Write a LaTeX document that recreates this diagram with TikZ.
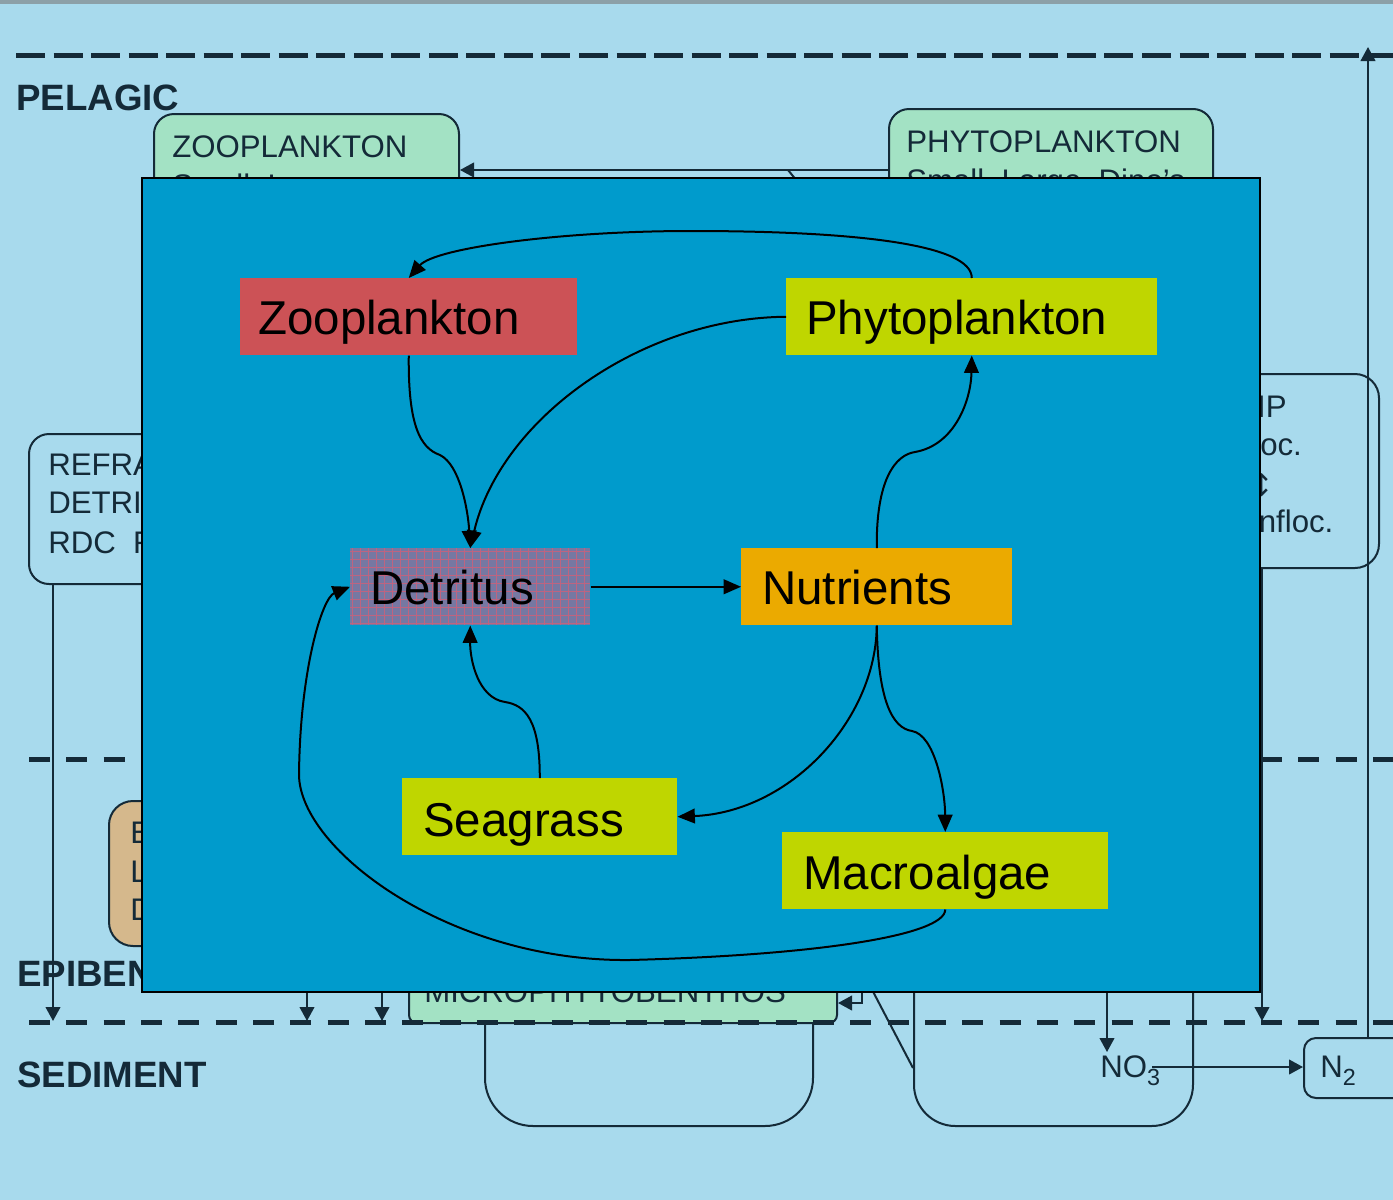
\documentclass[tikz,border=0pt]{standalone}
\usepackage{fontspec}
\setmainfont{Liberation Sans}
\newfontfamily\symfont{DejaVu Sans}
\usetikzlibrary{arrows.meta}
\definecolor{bgblue}{RGB}{168,218,237}
\definecolor{navy}{RGB}{20,42,56}
\definecolor{panel}{RGB}{0,155,204}
\definecolor{zoocol}{RGB}{204,82,86}
\definecolor{lime}{RGB}{191,214,0}
\definecolor{nutcol}{RGB}{235,170,0}
\definecolor{detcol}{RGB}{118,120,162}
\definecolor{detgrid}{RGB}{190,100,128}
\definecolor{boxgreen}{RGB}{163,226,196}
\definecolor{boxtan}{RGB}{213,184,140}
\definecolor{topgray}{RGB}{140,160,168}
\begin{document}
\begin{tikzpicture}[x=0.75pt,y=-0.75pt,
  bgline/.style={draw=navy, line width=1.5pt},
  bgarrow/.style={draw=navy, line width=1.5pt, -{Triangle[length=10.5pt,width=11pt]}},
  dashtop/.style={draw=navy, line width=3.75pt, dash pattern=on 21.75pt off 6.4pt},
  dashlow/.style={draw=navy, line width=3.75pt, dash pattern=on 15.75pt off 12.25pt},
  bgbox/.style={draw=navy, line width=1.5pt, rounded corners=15pt, inner sep=0pt, anchor=north west},
  bgtext/.style={text=navy, font=\fontsize{23.4pt}{28pt}\selectfont, inner sep=0pt, anchor=base west},
  zonetext/.style={text=navy, font=\bfseries\fontsize{27.5pt}{33pt}\selectfont, inner sep=0pt, anchor=base west},
  ibox/.style={inner sep=0pt, draw=none, anchor=north west, minimum height=57.75pt},
  itext/.style={font=\fontsize{35.6pt}{42pt}\selectfont, inner sep=0pt, anchor=base west},
  conn/.style={draw=black, line width=1.5pt, -{Triangle[length=13pt,width=11pt]}}
]
% canvas
\useasboundingbox (0,0) rectangle (1393,1200);
\fill[bgblue] (0,0) rectangle (1393,1200);
\fill[topgray] (0,0) rectangle (1393,4);

% ---------- background diagram ----------
\node[bgbox, rounded corners=36pt, minimum width=246pt, minimum height=168.75pt] (bsed1) at (484,900) {};
\node[bgbox, rounded corners=31pt, minimum width=209.25pt, minimum height=168.75pt] (bsed2) at (913,900) {};

\node[bgbox, fill=boxgreen, minimum width=228.75pt, minimum height=140.25pt] (bzoo) at (153,113) {};
\node[bgbox, fill=boxgreen, minimum width=243pt, minimum height=144pt] (bphy) at (888,108) {};
\node[bgbox, rounded corners=18pt, minimum width=120pt, minimum height=145.5pt] (bpip) at (1218,373) {};
\node[bgbox, minimum width=226.5pt, minimum height=112.5pt] (bref) at (28,433) {};
\node[bgbox, fill=boxtan, rounded corners=18pt, minimum width=166.5pt, minimum height=108.75pt] (bepi) at (108,800) {};
\node[bgbox, fill=boxgreen, rounded corners=6pt, minimum width=321pt, minimum height=91.5pt] (bmic) at (408,900) {};
\node[bgbox, rounded corners=9pt, minimum width=90pt, minimum height=45pt] (bn2) at (1303,1037) {};

% dashed zone lines
\coordinate (l1a) at (16,55);   \coordinate (l1b) at (1393,55);
\coordinate (l2a) at (29,759);  \coordinate (l2b) at (1393,759);
\coordinate (l3a) at (29,1022); \coordinate (l3b) at (1393,1022);
\draw[dashtop] (l1a) -- (l1b);
\draw[dashlow] (l2a) -- (l2b);
\draw[dashlow] (l3a) -- (l3b);

% zone labels
\node[zonetext] (pelagic) at (16,110) {PELAGIC};
\node[zonetext] (epiben) at (17,986) {EPIBENTHOS};
\node[zonetext] (sediment) at (17,1087) {SEDIMENT};

% box texts
\node[bgtext] (tzoo1) at (172,157) {ZOOPLANKTON};
\node[bgtext] (tzoo2) at (172,196) {Small, Large};
\node[bgtext] (tphy1) at (906,152) {PHYTOPLANKTON};
\node[bgtext] (tphy2) at (906,191) {Small, Large, Dino’s};
\node[bgtext] (tpip1) at (1236,417) {PIP};
\node[bgtext] (tpip2) at (1234,455) {Floc.};
\node[bgtext] (tpip3) at (1248,496) {\symfont ↕};
\node[bgtext] (tpip4) at (1236,532) {Unfloc.};
\node[bgtext] (tref1) at (48,475) {REFRACTORY};
\node[bgtext] (tref2) at (48,513) {DETRITUS};
\node[bgtext] (tref3) at (48,553) {RDC\ \ RDN};
\node[bgtext] (tepi1) at (130,843) {B};
\node[bgtext] (tepi2) at (130,882) {L};
\node[bgtext] (tepi3) at (130,920) {D};
\node[bgtext] (tmic) at (424,1002) {MICROPHYTOBENTHOS};
\node[bgtext] (tno3) at (1100,1077) {NO\raisebox{-6.5pt}{\fontsize{17.5pt}{20pt}\selectfont 3}};
\node[bgtext] (tn2) at (1320,1077) {N\raisebox{-6.5pt}{\fontsize{17.5pt}{20pt}\selectfont 2}};

% background connectors
\coordinate (ya) at (0,170);
\draw[bgarrow] (bphy.west |- ya) -- (bzoo.east |- ya);
\coordinate (d1) at (788,170); \coordinate (d2) at (806,192);
\draw[bgline] (d1) -- (d2);
\coordinate (xr) at (1368,47);
\draw[bgarrow] (bn2.north -| xr) -- (xr);
\coordinate (x62) at (1262,1021);
\draw[bgarrow] (bpip.south -| x62) -- (x62);
\coordinate (x53) at (53,1021);
\draw[bgarrow] (bref.south -| x53) -- (x53);
\coordinate (a307s) at (307,985); \coordinate (a307e) at (307,1021);
\draw[bgarrow] (a307s) -- (a307e);
\coordinate (a382s) at (382,985); \coordinate (a382e) at (382,1021);
\draw[bgarrow] (a382s) -- (a382e);
\coordinate (m1) at (862,985); \coordinate (m2) at (0,1003);
\draw[bgarrow] (m1) |- (bmic.east |- m2);
\coordinate (g1) at (868,982); \coordinate (g2) at (913,1068);
\draw[bgline] (g1) -- (g2);
\coordinate (no3s) at (1107,985); \coordinate (no3e) at (1107,1052);
\draw[bgarrow] (no3s) -- (no3e);
\coordinate (no3o) at (1152,1067);
\draw[bgarrow] (no3o) -- (bn2.west |- no3o);

% ---------- foreground panel ----------
\node[draw=black, fill=panel, line width=1.7pt, inner sep=0pt, anchor=north west,
      minimum width=838.5pt, minimum height=610.5pt] (panel) at (141,177) {};

% inner boxes
\node[ibox, fill=zoocol, minimum width=252.75pt] (zoo) at (240,278) {};
\node[ibox, fill=lime, minimum width=278.25pt] (phy) at (786,278) {};
\node[ibox, fill=detcol, minimum width=180pt] (det) at (350,548) {};
\node[ibox, fill=nutcol, minimum width=203.25pt] (nut) at (741,548) {};
\node[ibox, fill=lime, minimum width=206.25pt] (sea) at (402,778) {};
\node[ibox, fill=lime, minimum width=244.5pt] (mac) at (782,832) {};

% detritus texture
\begin{scope}
\clip (det.north west) rectangle (det.south east);
\foreach \i in {0,...,30} { \draw[detgrid, line width=0.3pt] (352+8*\i,548) -- (352+8*\i,625); }
\foreach \j in {0,...,10} { \draw[detgrid, line width=0.3pt] (350,551+8*\j) -- (590,551+8*\j); }
\end{scope}

% inner texts
\node[itext] (zoot) at (258,334) {Zooplankton};
\node[itext] (phyt) at (806,334) {Phytoplankton};
\node[itext] (dett) at (370,604) {Detritus};
\node[itext] (nutt) at (762,604) {Nutrients};
\node[itext] (seat) at (423,836) {Seagrass};
\node[itext] (mact) at (803,889) {Macroalgae};

% inner connectors
\draw[conn] (phy.north) .. controls (972,245) and (860,231) .. (691,231)
            .. controls (560,231) and (435,248) .. (zoo.north);
\draw[conn] (phy.west) .. controls (640,318) and (500,420) .. (det.north);
\draw[conn] (zoo.south) .. controls (408,425) and (420,448) .. (440,455)
            .. controls (460,465) and (468,510) .. (det.north);
\draw[conn] (nut.north) .. controls (876,480) and (895,455) .. (915,452)
            .. controls (955,445) and (971,400) .. (phy.south);
\draw[conn] (det.east) -- (nut.west);
\draw[conn] (sea.north) .. controls (540,720) and (525,705) .. (505,702)
            .. controls (478,698) and (470,660) .. (det.south);
\draw[conn] (nut.south) .. controls (876,720) and (790,812) .. (sea.east);
\draw[conn] (nut.south) .. controls (878,700) and (892,728) .. (912,731)
            .. controls (935,735) and (945,790) .. (mac.north);
\draw[conn] (mac.south) .. controls (945,935) and (820,955) .. (630,960)
            .. controls (450,962) and (300,850) .. (299,775)
            .. controls (300,670) and (322,598) .. (det.west);
\end{tikzpicture}
\end{document}
